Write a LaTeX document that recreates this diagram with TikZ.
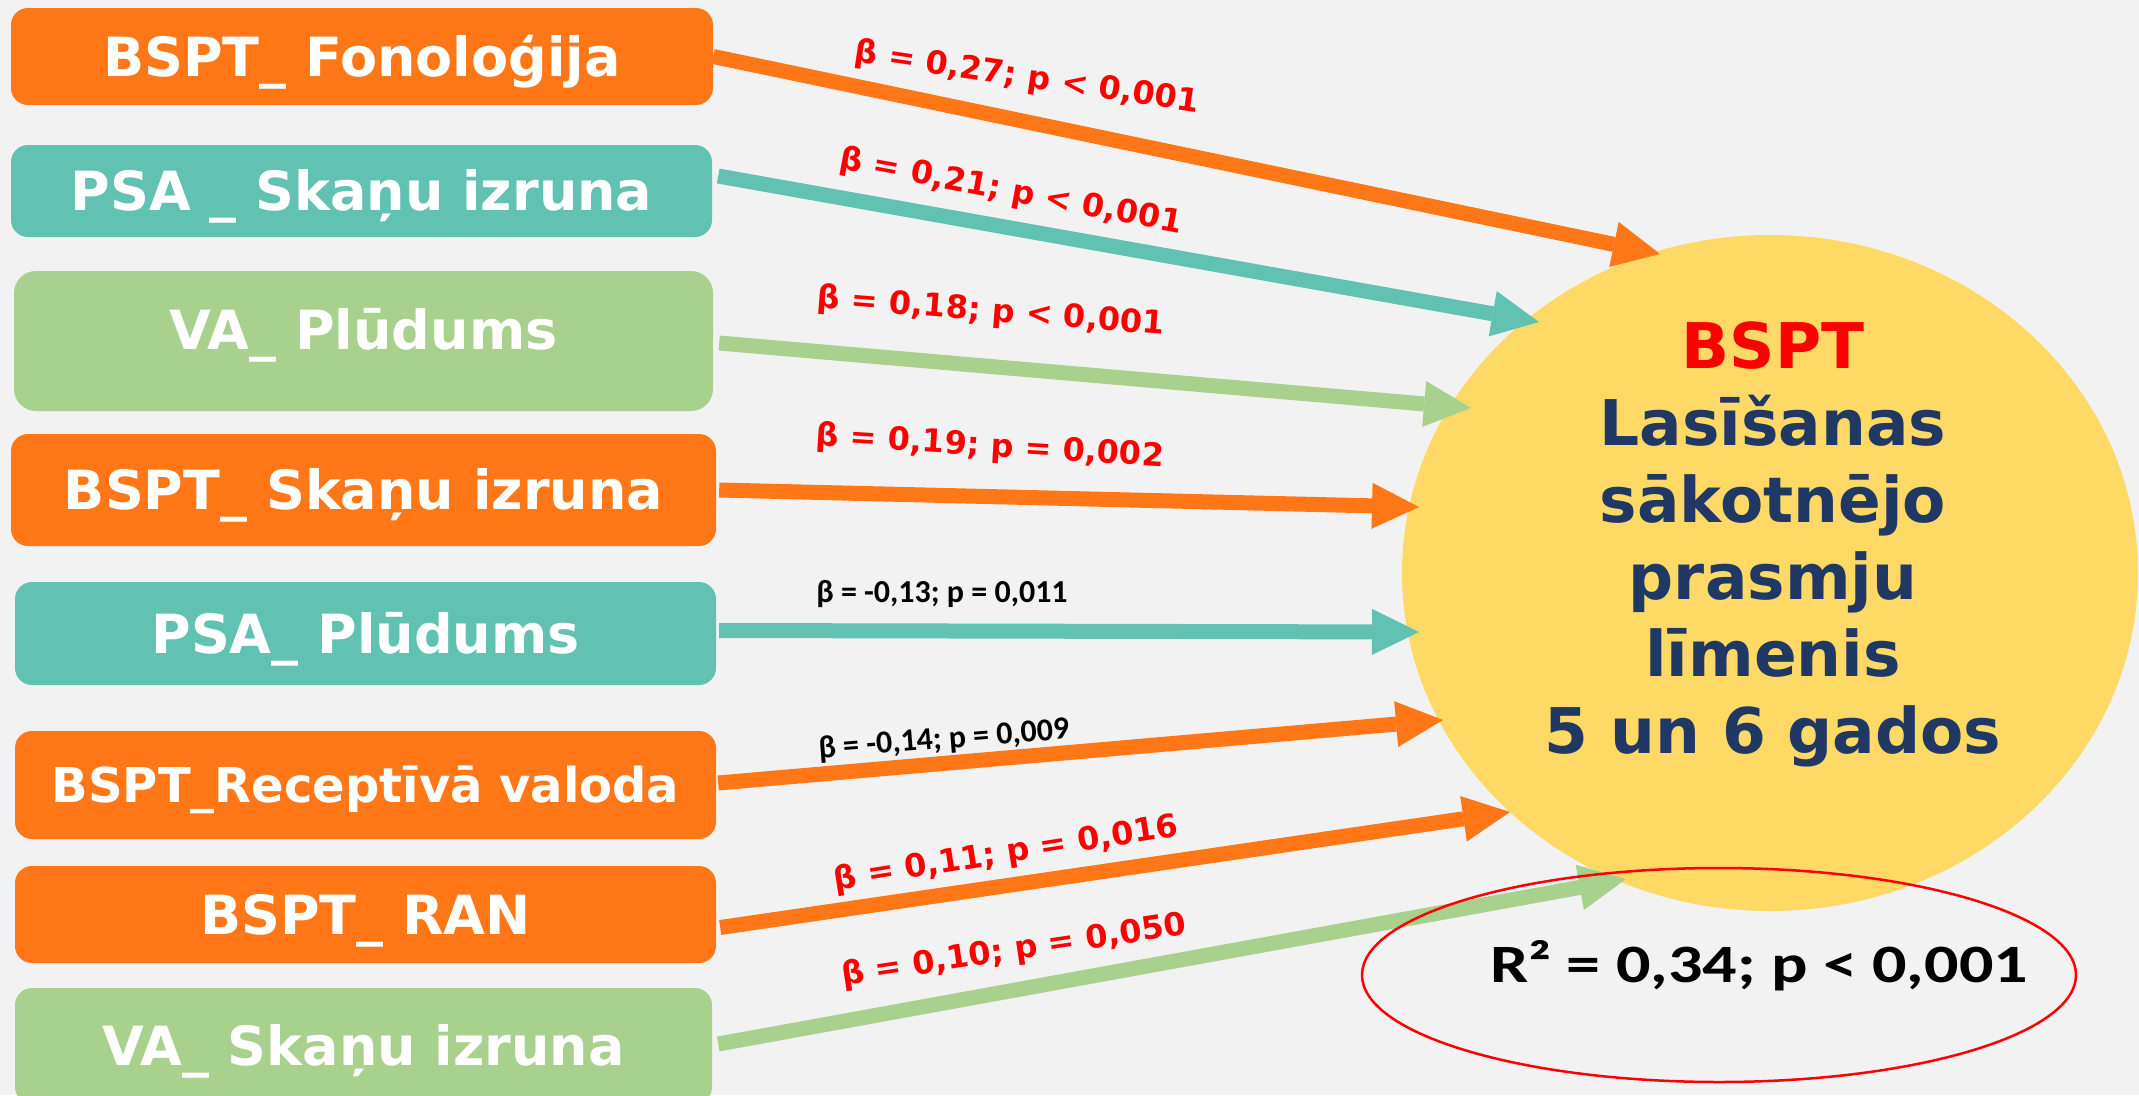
\documentclass[tikz,border=0pt]{standalone}
\usepackage{fontspec}
\usepackage{graphicx}
\setmainfont{DejaVu Sans}
\newfontfamily\carl{Carlito}
\usetikzlibrary{arrows.meta,shapes.geometric,calc}
\definecolor{bg}{HTML}{F2F2F2}
\definecolor{orng}{HTML}{FF7716}
\definecolor{tealc}{HTML}{62C2B2}
\definecolor{grn}{HTML}{A9D18E}
\definecolor{gold}{HTML}{FFD966}
\definecolor{navy}{HTML}{203864}
\begin{document}
\begin{tikzpicture}[x=1pt,y=-1pt,
  box/.style={rectangle, rounded corners=17pt, inner sep=0pt, text=white,
     font=\bfseries\fontsize{54}{60}\selectfont, text height=39pt, text depth=0pt},
  conn/.style={line width=15pt, -{Triangle[length=47pt,width=46pt,line width=0pt]}},
  redlbl/.style={text=red, font=\bfseries\fontsize{32}{38}\selectfont, inner sep=0pt},
  blklbl/.style={text=black, font=\carl\bfseries\fontsize{32}{38}\selectfont, inner sep=0pt},
]
\fill[bg] (0,0) rectangle (2139,1095);
\clip (0,0) rectangle (2139,1095);

% predictor boxes
\node[box, fill=orng, minimum width=702pt, minimum height=97pt] (b1) at (362,56.5) {BSPT\_ Fonoloģija};
\node[box, fill=tealc, minimum width=701pt, minimum height=92pt] (b2) at (361.5,191) {PSA \_ Skaņu izruna};
\node[box, fill=grn, minimum width=699pt, minimum height=140pt, rounded corners=22pt, text depth=22pt] (b3) at (363.5,341) {VA\_ Plūdums};
\node[box, fill=orng, minimum width=705pt, minimum height=112pt] (b4) at (363.5,490) {BSPT\_ Skaņu izruna};
\node[box, fill=tealc, minimum width=701pt, minimum height=103pt] (b5) at (365.5,633.5) {PSA\_ Plūdums};
\node[box, fill=orng, minimum width=701pt, minimum height=108pt, font=\bfseries\fontsize{48}{56}\selectfont, text height=35pt] (b6) at (365.5,785) {BSPT\_Receptīvā valoda};
\node[box, fill=orng, minimum width=701pt, minimum height=97pt] (b7) at (365.5,914.5) {BSPT\_ RAN};
\node[box, fill=grn, minimum width=697pt, minimum height=116pt] (b8) at (363.5,1046) {VA\_ Skaņu izruna};

% outcome
\node[ellipse, fill=gold, minimum width=736pt, minimum height=676pt, inner sep=0pt] (goal) at (1770,573) {};
\node[anchor=north, inner sep=0pt, align=center, text=navy, font=\bfseries\fontsize{63}{77}\selectfont] (goaltext) at ($(goal.center)+(3,-251)$) {\textcolor{red}{BSPT}\\Lasīšanas\\sākotnējo\\prasmju\\līmenis\\5 un 6 gados};

% arrow tips
\coordinate (t1) at (1660,254);
\coordinate (t2) at (1539,322);
\coordinate (t3) at (1471,408);
\coordinate (t4) at (1419,507);
\coordinate (t5) at (1419,632);
\coordinate (t6) at (1443,720);
\coordinate (t7) at (1510,812);
\coordinate (t8) at (1626,879);

\draw[conn, orng] (b1.east) -- (t1);
\draw[conn, tealc] ($(b2.east)+(6,-15)$) -- (t2);
\draw[conn, grn] ($(b3.east)+(6,2)$) -- (t3);
\draw[conn, orng] ($(b4.east)+(3,0)$) -- (t4);
\draw[conn, tealc] ($(b5.east)+(3,-3)$) -- (t5);
\draw[conn, orng] ($(b6.east)+(2,-2)$) -- (t6);
\draw[conn, orng] ($(b7.east)+(4,13)$) -- (t7);
\draw[conn, grn] ($(b8.east)+(6,-2)$) -- (t8);

% labels
\node[redlbl, rotate=-8.4] (l1) at (1027,78) {β = 0,27; p < 0,001};
\node[redlbl, rotate=-10.7] (l2) at (1011,192) {β = 0,21; p < 0,001};
\node[redlbl, rotate=-4.5] (l3) at (991,312) {β = 0,18; p < 0,001};
\node[redlbl, rotate=-3.5] (l4) at (990,447) {β = 0,19; p = 0,002};
\node[blklbl] (l5) at (942,594) {β = -0,13; p = 0,011};
\node[blklbl, rotate=4.5] (l6) at (944,740) {β = -0,14; p = 0,009};
\node[redlbl, rotate=9] (l7) at (1006,854) {β = 0,11; p = 0,016};
\node[redlbl, rotate=8.5] (l8) at (1014,951) {β = 0,10; p = 0,050};

% model fit
\node[ellipse, draw=red, line width=2.5pt, minimum width=714pt, minimum height=214pt, inner sep=0pt] (ring) at (1719,975) {};
\node[font=\carl\bfseries\fontsize{54}{60}\selectfont, text height=35pt, text depth=0pt, inner sep=0pt] (r2) at (1759,965) {\scalebox{1.26}[1]{R² = 0,34; p < 0,001}};
\end{tikzpicture}
\end{document}
